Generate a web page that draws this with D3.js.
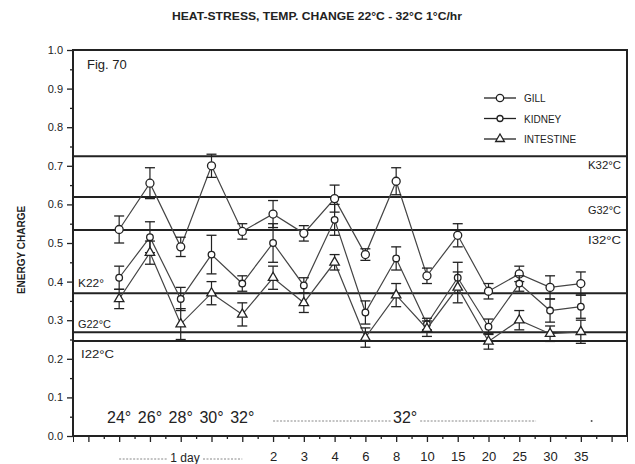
<!DOCTYPE html>
<html>
<head>
<meta charset="utf-8">
<script src="https://cdn.jsdelivr.net/npm/d3@7"></script>
<style>
  body { margin: 0; background: #fff; }
  svg text { font-family: "Liberation Sans", Arial, sans-serif; fill: #222; }
</style>
</head>
<body>
<svg id="chart" width="635" height="464"></svg>
<script>
// x positions (category index) and their labels
var xIndex = [1, 2, 3, 4, 5, 6, 7, 8, 9, 10, 11, 12, 13, 14, 15, 16];
var xTickLabels = ["", "", "", "", "", "", "2", "3", "4", "6", "8", "10", "15", "20", "25", "30", "35", ""];
var tempLabels = ["24°", "26°", "28°", "30°", "32°"];
var yTicks = [0, 0.1, 0.2, 0.3, 0.4, 0.5, 0.6, 0.7, 0.8, 0.9, 1.0];

// series values
var gill      = [0.535, 0.655, 0.49, 0.70, 0.53, 0.575, 0.525, 0.615, 0.47, 0.66, 0.415, 0.52, 0.375, 0.42, 0.385, 0.395];
var gillErr   = [0.035, 0.04, 0.025, 0.03, 0.02, 0.035, 0.02, 0.035, 0.015, 0.035, 0.02, 0.03, 0.02, 0.02, 0.03, 0.03];
var kidney    = [0.41, 0.515, 0.355, 0.47, 0.395, 0.50, 0.39, 0.56, 0.32, 0.46, 0.29, 0.41, 0.283, 0.395, 0.325, 0.335];
var kidneyErr = [0.03, 0.04, 0.03, 0.05, 0.02, 0.05, 0.02, 0.04, 0.03, 0.03, 0.015, 0.04, 0.02, 0.02, 0.03, 0.03];
var intest    = [0.355, 0.475, 0.29, 0.37, 0.315, 0.41, 0.345, 0.45, 0.255, 0.365, 0.278, 0.385, 0.245, 0.30, 0.265, 0.27];
var intestErr = [0.025, 0.03, 0.04, 0.03, 0.03, 0.03, 0.025, 0.02, 0.025, 0.03, 0.02, 0.04, 0.02, 0.025, 0.02, 0.03];

// reference levels
var refNames  = ["K32°C", "G32°C", "I32°C", "K22°", "G22°C", "I22°C"];
var refValues = [0.725, 0.619, 0.534, 0.370, 0.269, 0.246];

var svg = d3.select("#chart");
var mLeft = 73, mRight = 627, mTop = 50, mBottom = 436;
var ink = "#222";

var x = d3.scaleLinear().domain([-0.5, 17.5]).range([mLeft, mRight]);
var y = d3.scaleLinear().domain([0, 1]).range([mBottom, mTop]);

// title
svg.append("text")
  .attr("x", 317).attr("y", 20)
  .attr("text-anchor", "middle")
  .attr("font-size", 10).attr("font-weight", "bold")
  .attr("textLength", 290).attr("lengthAdjust", "spacingAndGlyphs")
  .text("HEAT-STRESS, TEMP. CHANGE 22°C - 32°C 1°C/hr");

// y axis title
svg.append("text")
  .attr("transform", "translate(25,250) rotate(-90)")
  .attr("text-anchor", "middle")
  .attr("font-size", 10).attr("font-weight", "bold")
  .text("ENERGY CHARGE");

// minor ticks y
var yMinor = d3.range(0.05, 1, 0.1);
svg.append("g")
  .attr("transform", "translate(" + mLeft + ",0)")
  .call(d3.axisLeft(y).tickValues(yMinor).tickSize(3).tickFormat(""))
  .call(function(g){ g.select(".domain").remove(); });

// major y axis
svg.append("g")
  .attr("transform", "translate(" + mLeft + ",0)")
  .call(d3.axisLeft(y).tickValues(yTicks).tickSize(6).tickPadding(4).tickFormat(d3.format(".1f")))
  .call(function(g){
    g.selectAll("text").attr("font-size", 11).style("font-family", "Liberation Sans, Arial, sans-serif").attr("fill", ink);
  });

// x axis minor ticks
svg.append("g")
  .attr("transform", "translate(0," + mBottom + ")")
  .call(d3.axisBottom(x).tickValues(d3.range(0.5, 17.5, 1)).tickSize(3).tickFormat(""))
  .call(function(g){ g.select(".domain").remove(); });

// x axis major ticks
svg.append("g")
  .attr("transform", "translate(0," + mBottom + ")")
  .call(d3.axisBottom(x).tickValues(d3.range(0, 18)).tickSize(6).tickPadding(10)
        .tickFormat(function(d){ return xTickLabels[d]; }))
  .call(function(g){
    g.selectAll("text").attr("font-size", 13).style("font-family", "Liberation Sans, Arial, sans-serif").attr("fill", ink);
  });

svg.selectAll(".tick line").attr("stroke", ink).attr("stroke-width", 1.3);
svg.selectAll(".domain").attr("stroke", ink);

// frame
svg.append("rect")
  .attr("x", mLeft).attr("y", mTop)
  .attr("width", mRight - mLeft).attr("height", mBottom - mTop)
  .attr("fill", "none").attr("stroke", ink).attr("stroke-width", 2);

// reference lines
svg.selectAll(".ref")
  .data(refValues)
  .enter().append("line")
  .attr("class", "ref")
  .attr("x1", mLeft).attr("x2", mRight)
  .attr("y1", function(d){ return y(d); })
  .attr("y2", function(d){ return y(d); })
  .attr("stroke", ink).attr("stroke-width", 2);

// reference labels (32 on right, 22 on left)
var refLabelPos = [
  {anchor: "end", dx: -6, dy: 13},
  {anchor: "end", dx: -6, dy: 17},
  {anchor: "end", dx: -6, dy: 14},
  {anchor: "start", dx: 5, dy: -6},
  {anchor: "start", dx: 5, dy: -4},
  {anchor: "start", dx: 8, dy: 17}
];
refNames.forEach(function(name, i){
  var p = refLabelPos[i];
  svg.append("text")
    .attr("x", (p.anchor == "end" ? mRight : mLeft) + p.dx)
    .attr("y", y(refValues[i]) + p.dy)
    .attr("text-anchor", p.anchor)
    .attr("font-size", 10)
    .attr("textLength", name.length > 4 ? 33 : 26).attr("lengthAdjust", "spacingAndGlyphs")
    .text(name);
});

// Fig label
svg.append("text")
  .attr("x", 87).attr("y", 69)
  .attr("font-size", 13)
  .text("Fig. 70");

// series
var series = [
  {name: "GILL", values: gill, err: gillErr, shape: "circle", r: 4},
  {name: "KIDNEY", values: kidney, err: kidneyErr, shape: "circle", r: 3.3},
  {name: "INTESTINE", values: intest, err: intestErr, shape: "triangle", r: 3.6}
];

var line = d3.line()
  .x(function(d){ return x(d.i); })
  .y(function(d){ return y(d.v); });

function drawMarker(g, shape, r, cx, cy){
  if (shape == "circle") {
    g.append("circle").attr("cx", cx).attr("cy", cy).attr("r", r)
      .attr("fill", "#fff").attr("stroke", ink).attr("stroke-width", 1.3);
  } else {
    g.append("path")
      .attr("d", d3.symbol().type(d3.symbolTriangle).size(r * r * 3)())
      .attr("transform", "translate(" + cx + "," + cy + ")")
      .attr("fill", "#fff").attr("stroke", ink).attr("stroke-width", 1.3);
  }
}

series.forEach(function(s){
  var pts = s.values.map(function(v, k){ return {i: xIndex[k], v: v, e: s.err[k]}; });
  var g = svg.append("g");

  g.append("path").datum(pts)
    .attr("d", line)
    .attr("fill", "none").attr("stroke", "#444").attr("stroke-width", 1.2);

  // error bars
  pts.forEach(function(p){
    var cx = x(p.i);
    g.append("line").attr("x1", cx).attr("x2", cx)
      .attr("y1", y(p.v + p.e)).attr("y2", y(p.v - p.e))
      .attr("stroke", ink).attr("stroke-width", 1.2);
    [p.v + p.e, p.v - p.e].forEach(function(ev){
      g.append("line").attr("x1", cx - 5).attr("x2", cx + 5)
        .attr("y1", y(ev)).attr("y2", y(ev))
        .attr("stroke", ink).attr("stroke-width", 1.3);
    });
  });

  pts.forEach(function(p){ drawMarker(g, s.shape, s.r, x(p.i), y(p.v)); });
});

// legend
series.forEach(function(s, i){
  var ly = 98 + i * 20.5;
  svg.append("line").attr("x1", 484).attr("x2", 516).attr("y1", ly).attr("y2", ly)
    .attr("stroke", ink).attr("stroke-width", 1.3);
  drawMarker(svg, s.shape, s.r - 0.3, 500, ly);
  svg.append("text").attr("x", 524).attr("y", ly + 4)
    .attr("font-size", 10).text(s.name);
});

// temperature labels inside the plot
tempLabels.forEach(function(t, k){
  svg.append("text")
    .attr("x", x(xIndex[k])).attr("y", 423)
    .attr("text-anchor", "middle")
    .attr("font-size", 16)
    .text(t);
});
svg.append("line").attr("x1", x(6)).attr("x2", x(10) - 5).attr("y1", 421).attr("y2", 421)
  .attr("stroke", "#888").attr("stroke-width", 1).attr("stroke-dasharray", "2,1.5");
svg.append("text").attr("x", x(10) + 9).attr("y", 423)
  .attr("text-anchor", "middle").attr("font-size", 16).text("32°");
svg.append("line").attr("x1", x(10) + 24).attr("x2", x(15) - 14).attr("y1", 421).attr("y2", 421)
  .attr("stroke", "#888").attr("stroke-width", 1).attr("stroke-dasharray", "2,1.5");
svg.append("circle").attr("cx", x(16.35)).attr("cy", 421).attr("r", 1).attr("fill", "#555");

// "1 day" bracket under the axis
svg.append("text").attr("x", 185).attr("y", 462)
  .attr("text-anchor", "middle").attr("font-size", 12).text("1 day");
svg.append("line").attr("x1", x(1)).attr("x2", 168).attr("y1", 459).attr("y2", 459)
  .attr("stroke", "#888").attr("stroke-dasharray", "2,1.5");
svg.append("line").attr("x1", 203).attr("x2", x(5)).attr("y1", 459).attr("y2", 459)
  .attr("stroke", "#888").attr("stroke-dasharray", "2,1.5");
</script>
</body>
</html>
